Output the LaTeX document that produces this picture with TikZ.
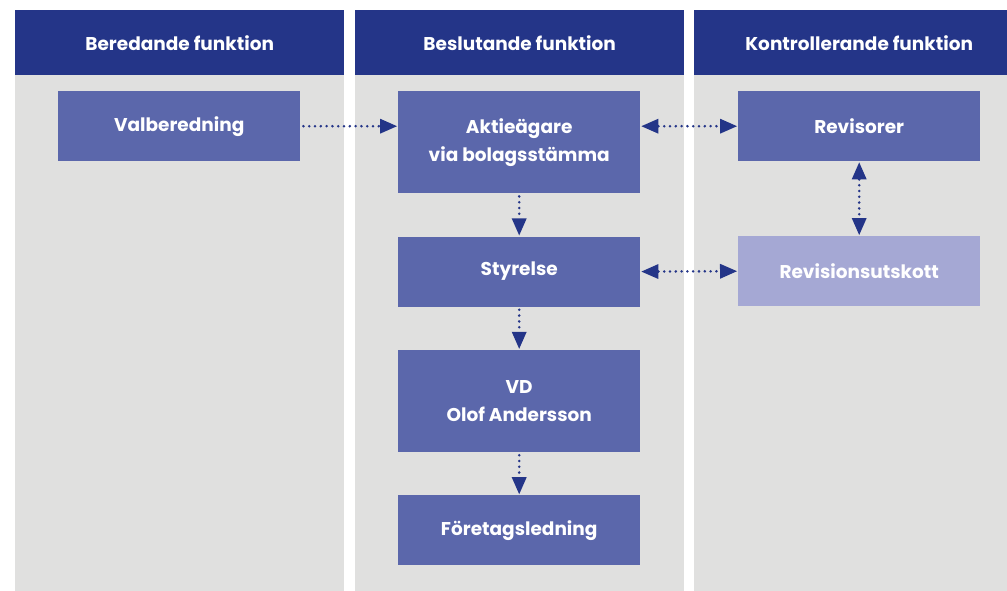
\documentclass[tikz,border=0pt]{standalone}
\usepackage{fontspec}
\setmainfont{Poppins}
\usetikzlibrary{positioning, arrows.meta}
\definecolor{hdrblue}{HTML}{243588}
\definecolor{boxblue}{HTML}{5B67AB}
\definecolor{paleblue}{HTML}{A5A8D4}
\definecolor{colgray}{HTML}{E0E0DF}

\begin{document}
\begin{tikzpicture}
  [x=1pt, y=1pt,
   every node/.style={font=\fontsize{18.5}{28}\selectfont\bfseries, text=white},
   header/.style={fill=hdrblue, minimum width=329pt, minimum height=65pt, inner sep=0pt},
   unit/.style={fill=boxblue, minimum width=242pt, minimum height=70pt, align=center, inner sep=0pt},
   tall/.style={unit, minimum height=102pt},
   link/.style={draw=hdrblue, line width=2.8pt, line cap=round,
                dash pattern=on 0pt off 5.8pt,
                -{Triangle[length=17pt, width=15pt, line width=0pt]},
                shorten <=3pt, shorten >=1pt},
   both/.style={link, {Triangle[length=17pt, width=15pt, line width=0pt]}-{Triangle[length=17pt, width=15pt, line width=0pt]}, shorten <=1pt},
   node distance=43pt]
  \useasboundingbox [fill=white] (0,0) rectangle (1007,-591);

  % columns
  \fill [colgray] (15,-75) rectangle (344,-591);
  \fill [colgray] (355,-75) rectangle (684,-591);
  \fill [colgray] (694,-75) rectangle (1024,-591);
  \node [header, anchor=north west] (hdrA) at (15,-10) {Beredande funktion};
  \node [header, anchor=north west] (hdrB) at (355,-10) {Beslutande funktion};
  \node [header, minimum width=330pt, anchor=north west] (hdrC) at (694,-10) {Kontrollerande funktion};

  % left and right
  \node [unit, anchor=north west] (valb) at (58,-91) {Valberedning};
  \node [unit, anchor=north west] (revis) at (738,-91) {Revisorer};
  \node [unit, fill=paleblue, anchor=north west] (utskott) at (738,-236) {Revisionsutskott};

  % middle stack
  \node [tall, anchor=north west] (agare) at (398,-91) {Aktieägare\\via bolagsstämma};
  \node [unit, below=of agare] (styr) {Styrelse};
  \node [tall, below=of styr] (vd) {VD\\Olof Andersson};
  \node [unit, below=of vd] (ledn) {Företagsledning};

  \draw [link] (valb.east) -- (valb.east -| agare.west);
  \draw [both] (agare.east |- revis.west) -- (revis.west);
  \draw [both] (revis.south) -- (utskott.north);
  \draw [both] (styr.east) -- (utskott.west);
  \foreach \a/\b in {agare/styr, styr/vd, vd/ledn}{
    \draw [link] (\a.south) -- (\b.north);
  };
\end{tikzpicture}
\end{document}
